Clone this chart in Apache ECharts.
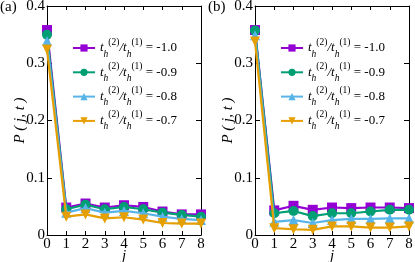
<!DOCTYPE html>
<html><head><meta charset="utf-8">
<script src="https://cdn.jsdelivr.net/npm/echarts@6/dist/echarts.min.js"></script>
<style>html,body{margin:0;padding:0;background:#fff}#c{width:415px;height:262px}</style>
</head><body><div id="c"></div>
<script>
const jValues = [0, 1, 2, 3, 4, 5, 6, 7, 8];
const ratios = ['-1.0', '-0.9', '-0.8', '-0.7'];
const yTicks = [0, 0.1, 0.2, 0.3, 0.4];
const panelLabels = ['(a)', '(b)'];
// panel (a)
const a_m10 = [0.358, 0.048, 0.055, 0.048, 0.052, 0.049, 0.041, 0.036, 0.036];
const a_m09 = [0.350, 0.045, 0.053, 0.045, 0.049, 0.045, 0.039, 0.035, 0.032];
const a_m08 = [0.339, 0.039, 0.047, 0.039, 0.042, 0.038, 0.032, 0.028, 0.026];
const a_m07 = [0.324, 0.032, 0.036, 0.029, 0.031, 0.027, 0.021, 0.020, 0.020];
// panel (b)
const b_m10 = [0.358, 0.043, 0.051, 0.044, 0.048, 0.047, 0.048, 0.048, 0.047];
const b_m09 = [0.357, 0.038, 0.042, 0.033, 0.038, 0.038, 0.041, 0.044, 0.044];
const b_m08 = [0.349, 0.023, 0.026, 0.021, 0.026, 0.028, 0.028, 0.029, 0.029];
const b_m07 = [0.338, 0.012, 0.010, 0.009, 0.015, 0.015, 0.013, 0.013, 0.015];

const colors = ['#9400D3', '#009E73', '#56B4E9', '#E69F00'];
const symbols = ['rect', 'circle', 'triangle', 'triangle'];
const rotates = [0, 0, 0, 180];
const sizes = [10, 10, 10, 10];
const FONT = 'Liberation Serif';

const chart = echarts.init(document.getElementById('c'));
const grids = [
  {left: 47, top: 6, width: 154, height: 229, outerBoundsMode: 'none', containLabel: false},
  {left: 255, top: 6, width: 154, height: 229, outerBoundsMode: 'none', containLabel: false}
];
const panelData = [[a_m10, a_m09, a_m08, a_m07], [b_m10, b_m09, b_m08, b_m07]];

const xAxes = [], yAxes = [], series = [], legends = [];
grids.forEach((g, gi) => {
  xAxes.push({
    gridIndex: gi, type: 'value', min: 0, max: 8, interval: 1, position: 'bottom',
    name: 'j', nameLocation: 'middle', nameGap: 14, nameMoveOverlap: false,
    nameTextStyle: {fontFamily: FONT, fontStyle: 'italic', fontSize: 15, color: '#000'},
    axisLine: {onZero: false, lineStyle: {color: '#000', width: 1}},
    axisTick: {inside: true, length: 4, lineStyle: {color: '#000'}},
    axisLabel: {fontFamily: FONT, fontSize: 15, color: '#000', margin: 2},
    splitLine: {show: false}
  });
  xAxes.push({
    gridIndex: gi, type: 'value', min: 0, max: 8, interval: 1, position: 'top',
    axisLine: {onZero: false, lineStyle: {color: '#000', width: 1}},
    axisTick: {inside: true, length: 4, lineStyle: {color: '#000'}},
    axisLabel: {show: false}, splitLine: {show: false}
  });
  yAxes.push({
    gridIndex: gi, type: 'value', min: 0, max: 0.4, interval: 0.1, position: 'left',
    name: 'P ( j, t )', nameLocation: 'middle', nameGap: 19, nameRotate: 90, nameMoveOverlap: false,
    nameTextStyle: {fontFamily: FONT, fontStyle: 'italic', fontSize: 15, color: '#000'},
    axisLine: {onZero: false, lineStyle: {color: '#000', width: 1}},
    axisTick: {inside: true, length: 5, lineStyle: {color: '#000'}},
    axisLabel: {fontFamily: FONT, fontSize: 15, color: '#000', margin: 2,
      formatter: v => (Math.round(v * 10) / 10).toString()},
    splitLine: {show: false}
  });
  yAxes.push({
    gridIndex: gi, type: 'value', min: 0, max: 0.4, interval: 0.1, position: 'right',
    axisLine: {onZero: false, lineStyle: {color: '#000', width: 1}},
    axisTick: {inside: true, length: 5, lineStyle: {color: '#000'}},
    axisLabel: {show: false}, splitLine: {show: false}
  });
  const names = [];
  panelData[gi].forEach((vals, si) => {
    const nm = 'p' + gi + '_' + si;
    names.push(nm);
    series.push({
      name: nm, type: 'line', xAxisIndex: gi * 2, yAxisIndex: gi * 2,
      data: jValues.map((j, k) => [j, vals[k]]),
      symbol: symbols[si], symbolRotate: rotates[si], symbolSize: sizes[si],
      itemStyle: {color: colors[si]},
      lineStyle: {color: colors[si], width: 2.2},
      z: 2 + si, animation: false
    });
  });
  legends.push({
    data: names, orient: 'vertical', left: g.left + 25, top: 37, padding: 0,
    itemWidth: 22, itemHeight: 9, itemGap: 2.3,
    formatter: nm => {
      const si = +nm.split('_')[1];
      return '{t|t}{sub|h}{sup|(2)}{t|/}{t|t}{sub|h}{sup|(1)}{n| = ' + ratios[si] + '}';
    },
    textStyle: {
      rich: {
        t: {fontFamily: FONT, fontStyle: 'italic', fontSize: 13, color: '#000', lineHeight: 22},
        n: {fontFamily: FONT, fontSize: 13, color: '#000', lineHeight: 22},
        sup: {fontFamily: FONT, fontSize: 9.5, color: '#000', lineHeight: 12, verticalAlign: 'top'},
        sub: {fontFamily: FONT, fontStyle: 'italic', fontSize: 9.5, color: '#000', lineHeight: 10, verticalAlign: 'bottom'}
      }
    },
    selectedMode: false
  });
});

chart.setOption({
  animation: false,
  grid: grids,
  xAxis: xAxes,
  yAxis: yAxes,
  series: series,
  legend: legends,
  graphic: [
    {type: 'text', left: 0, top: 0, style: {text: panelLabels[0], fontFamily: FONT, fontSize: 15, fill: '#000'}},
    {type: 'text', left: 208, top: 0, style: {text: panelLabels[1], fontFamily: FONT, fontSize: 15, fill: '#000'}}
  ]
});
</script></body></html>
